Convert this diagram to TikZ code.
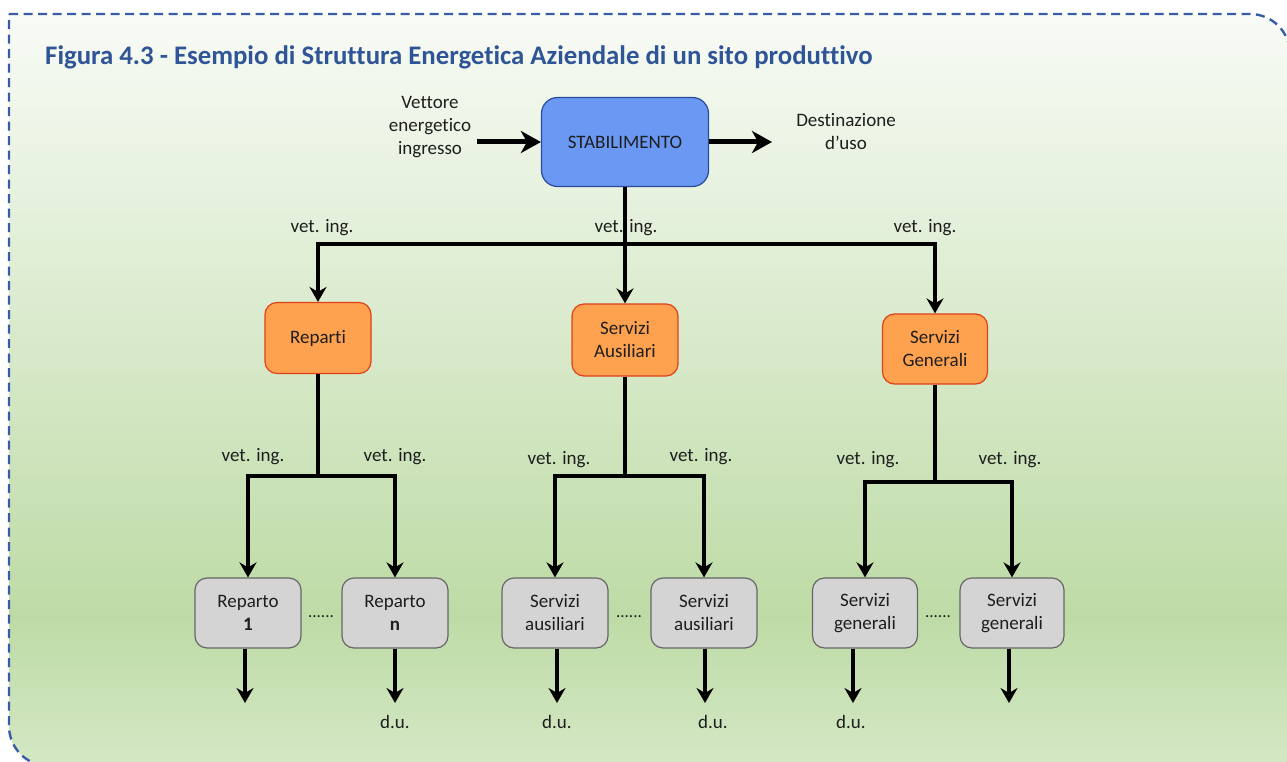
\documentclass[tikz,border=0pt]{standalone}
\usepackage{fontspec}
\setmainfont{Carlito}[Ligatures=NoCommon]
\usetikzlibrary{arrows.meta}
\definecolor{bgtop}{HTML}{F8FBF6}
\definecolor{bgmid}{HTML}{BEDBA6}
\definecolor{bgbot}{HTML}{D4E8C5}
\definecolor{framecol}{HTML}{3A5CA6}
\definecolor{titleblue}{HTML}{2F5597}
\definecolor{stabfill}{HTML}{6B98F2}
\definecolor{stabdraw}{HTML}{2C4A9C}
\definecolor{orfill}{HTML}{FFA24F}
\definecolor{ordraw}{HTML}{E0401A}
\definecolor{grfill}{HTML}{D4D4D4}
\definecolor{grdraw}{HTML}{666666}
\definecolor{txt}{HTML}{1E1E1E}
\pgfdeclareverticalshading{bgshade}{100bp}{color(0bp)=(bgbot); color(25bp)=(bgbot); color(35bp)=(bgmid); color(75bp)=(bgtop); color(100bp)=(bgtop)}
\tikzset{
  box/.style={draw, rounded corners=12pt, line width=1.2pt, minimum width=106pt, minimum height=70pt, align=center, font=\fontsize{19}{23}\selectfont, text=txt, inner sep=0pt},
  stabbox/.style={box, fill=stabfill, draw=stabdraw, minimum width=167pt, minimum height=89pt, rounded corners=16pt},
  orbox/.style={box, fill=orfill, draw=ordraw, minimum height=71pt},
  grbox/.style={box, fill=grfill, draw=grdraw},
  lbl/.style={font=\fontsize{19}{23}\selectfont, text=txt, align=center, inner sep=0pt},
  conn/.style={line width=3.2pt},
  arr/.style={conn, -{Stealth[length=15pt,width=17pt,inset=5pt]}},
  bigarr/.style={line width=5pt, -{Stealth[length=20pt,width=22pt,inset=6pt]}},
  dots/.style={font=\fontsize{17}{18}\selectfont, text=txt, inner sep=0pt}
}
\begin{document}
\begin{tikzpicture}[x=1pt,y=-1pt]
\useasboundingbox (0,0) rectangle (1287,762);
% background frame
\shade[shading=bgshade] (9,14) -- (1250,14) arc[start angle=270,end angle=360,radius=40] -- (1290,766) -- (49,766) arc[start angle=90,end angle=180,radius=40] -- cycle;
\draw[framecol, line width=2.4pt, dash pattern=on 9pt off 5.5pt] (9,14) -- (1250,14) arc[start angle=270,end angle=360,radius=40] -- (1290,766) -- (49,766) arc[start angle=90,end angle=180,radius=40] -- cycle;
% title
\node[anchor=base west, inner sep=0pt, text=titleblue, font=\fontsize{26.8}{30}\selectfont\bfseries] (title) at (45,65) {Figura 4.3 - Esempio di Struttura Energetica Aziendale di un sito produttivo};
% main nodes
\node[stabbox] (stab) at (625,142) {STABILIMENTO};
\node[lbl] (vin) at (430,127) {Vettore\\energetico\\ingresso};
\node[lbl] (dest) at (846,132) {Destinazione\\d'uso};
\coordinate (inS) at (477,142);
\coordinate (outE) at (772,142);
\draw[bigarr] (inS) -- (stab.west);
\draw[bigarr] (stab.east) -- (outE);
% second level
\node[orbox] (rep) at (318,338) {Reparti};
\node[orbox, minimum height=72pt] (sa) at (625,340) {Servizi\\Ausiliari};
\node[orbox, minimum width=105pt, minimum height=70pt] (sg) at (935,349) {Servizi\\Generali};
\coordinate (bus) at (625,244);
\draw[conn] (stab.south) -- (bus);
\draw[arr] (bus) -| (rep.north);
\draw[arr] (bus) -| (sg.north);
\draw[arr] (bus) -- (sa.north);
\node[lbl] (l1) at (322,228) {vet. ing.};
\node[lbl] (l2) at (626,228) {vet. ing.};
\node[lbl] (l3) at (925,228) {vet. ing.};
% third level
\node[grbox] (r1) at (248,613) {Reparto\\\textbf{1}};
\node[grbox] (rn) at (395,613) {Reparto\\\textbf{n}};
\node[grbox] (sa1) at (555,613) {Servizi\\ausiliari};
\node[grbox] (sa2) at (704,613) {Servizi\\ausiliari};
\node[grbox, minimum width=105pt] (sg1) at (865,613) {Servizi\\generali};
\node[grbox, minimum width=104pt] (sg2) at (1012,613) {Servizi\\generali};
\node[dots] (d1) at (321,617) {......};
\node[dots] (d2) at (629,617) {......};
\node[dots] (d3) at (938,617) {......};
% branches
\coordinate (rb) at (318,476);
\coordinate (sab) at (625,476);
\coordinate (sgb) at (935,482);
\draw[conn] (rep.south) -- (rb);
\draw[arr] (rb) -| (r1.north);
\draw[arr] (rb) -| (rn.north);
\draw[conn] (sa.south) -- (sab);
\draw[arr] (sab) -| (sa1.north);
\draw[arr] (sab) -| (sa2.north);
\draw[conn] (sg.south) -- (sgb);
\draw[arr] (sgb) -| (sg1.north);
\draw[arr] (sgb) -| (sg2.north);
\node[lbl] (l4) at (253,457) {vet. ing.};
\node[lbl] (l5) at (395,457) {vet. ing.};
\node[lbl] (l6) at (559,460) {vet. ing.};
\node[lbl] (l7) at (701,457) {vet. ing.};
\node[lbl] (l8) at (868,460) {vet. ing.};
\node[lbl] (l9) at (1010,460) {vet. ing.};
% outputs
\coordinate (o1) at (245,703);
\coordinate (o2) at (395,703);
\coordinate (o3) at (557,703);
\coordinate (o4) at (705,703);
\coordinate (o5) at (853,703);
\coordinate (o6) at (1009,703);
\draw[arr] (r1.south -| o1) -- (o1);
\draw[arr] (rn.south -| o2) -- (o2);
\draw[arr] (sa1.south -| o3) -- (o3);
\draw[arr] (sa2.south -| o4) -- (o4);
\draw[arr] (sg1.south -| o5) -- (o5);
\draw[arr] (sg2.south -| o6) -- (o6);
\node[lbl] (u2) at (395,722) {d.u.};
\node[lbl] (u3) at (557,722) {d.u.};
\node[lbl] (u4) at (713,722) {d.u.};
\node[lbl] (u5) at (851,722) {d.u.};
\end{tikzpicture}
\end{document}
